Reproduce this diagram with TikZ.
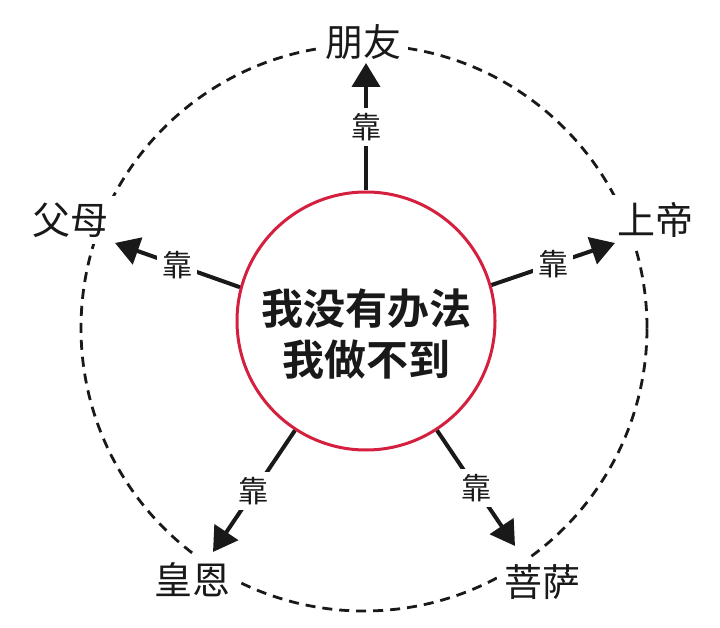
\documentclass[tikz,border=0pt]{standalone}
\usepackage{fontspec}
\newfontfamily\cjk{Noto Sans CJK SC}[BoldFont=* Bold]
\usetikzlibrary{arrows.meta}

\begin{document}
\begin{tikzpicture}[x=1pt, y=-1pt, font=\cjk]

	% ==========================================
	% 1. COLOURS
	% ==========================================
	\definecolor{ringcol}{RGB}{212, 32, 62}   % red ring in the middle
	\definecolor{inkcol}{RGB}{25, 25, 25}     % near-black lines and text

	% ==========================================
	% 2. STYLES
	% ==========================================
	\tikzset{
		core/.style={circle, draw=ringcol, line width=3pt, minimum size=258pt, inner sep=0pt},
		plea/.style={align=center, text=inkcol, font=\cjk\bfseries\fontsize{42}{51}\selectfont},
		who/.style={fill=white, inner sep=7pt, text=inkcol, font=\cjk\fontsize{38}{40}\selectfont},
		kao/.style={fill=white, inner sep=5pt, text=inkcol, font=\cjk\fontsize{30}{32}\selectfont},
		lean/.style={line width=4pt, draw=inkcol, -{Triangle[length=24pt, width=28pt]}},
		orbit/.style={line width=2.8pt, draw=inkcol, dash pattern=on 10pt off 7pt}
	}

	% page size
	\useasboundingbox (0,0) rectangle (720,628);

	% ==========================================
	% 3. DASHED OUTER RING
	% ==========================================
	\draw[orbit] (364,328) circle (283pt);

	% ==========================================
	% 4. CENTRE AND THE FIVE NAMES
	% ==========================================
	\node[core] (core) at (366,321) {};
	\node[plea] (cannot) at (366,334) {我没有办法\\我做不到};

	\node[who] (pengyou) at (363,42)  {朋友};
	\node[who] (fumu)    at (70,220)  {父母};
	\node[who] (shangdi) at (655,220) {上帝};
	\node[who] (huangen) at (192,580) {皇恩};
	\node[who] (pusa)    at (542,582) {菩萨};

	% arrow tips (just short of the names)
	\coordinate (pengyou-tip) at (366,63);
	\coordinate (fumu-tip)    at (115,243);
	\coordinate (shangdi-tip) at (615,243);
	\coordinate (huangen-tip) at (213,552);
	\coordinate (pusa-tip)    at (515,546);

	% ==========================================
	% 5. ARROWS
	% ==========================================
	\draw[lean] (core.90)  -- node[kao] {靠} (pengyou-tip);
	\draw[lean] (core.165) -- node[kao] {靠} (fumu-tip);
	\draw[lean] (core.16)  -- node[kao] {靠} (shangdi-tip);
	\draw[lean] (core.237) -- node[kao] {靠} (huangen-tip);
	\draw[lean] (core.303) -- node[kao] {靠} (pusa-tip);

\end{tikzpicture}
\end{document}
